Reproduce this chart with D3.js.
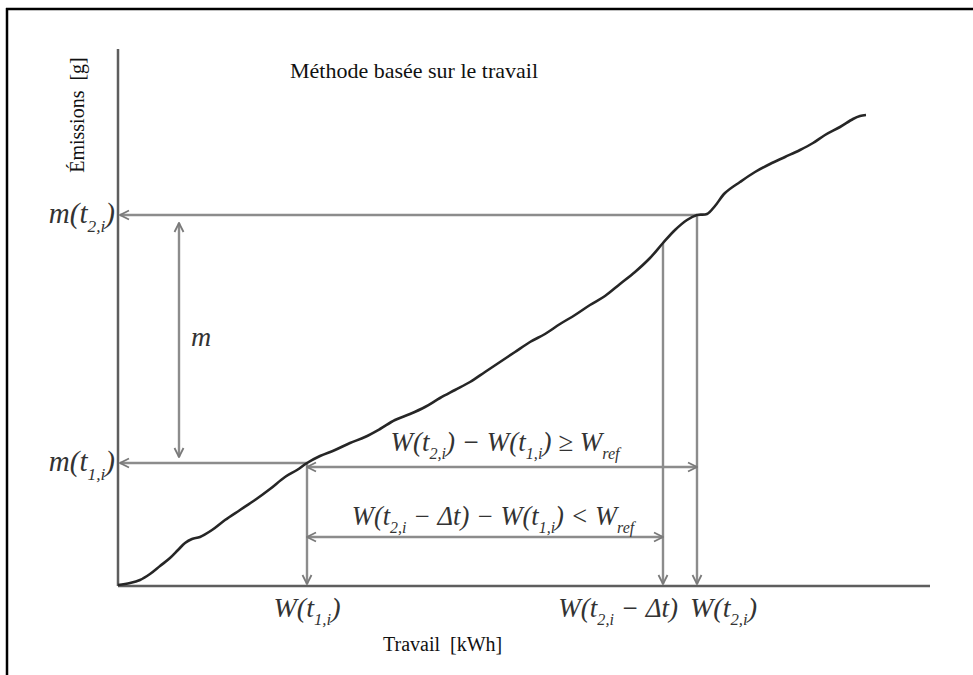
<!DOCTYPE html>
<html>
<head>
<meta charset="utf-8">
<script src="https://cdn.jsdelivr.net/npm/d3@7"></script>
<style>
  body { margin: 0; background: #fff; }
  text { font-family: "Liberation Serif", "Times New Roman", serif; }
  .math { font-style: italic; fill: #333; }
</style>
</head>
<body>
<div id="chart"></div>
<script>
var svgWidth = 973;
var svgHeight = 675;

// cumulative curve: work [x] vs emissions [y]
var work = [0, 1.2, 2.2, 3.2, 4.2, 5.2, 6.0, 6.7, 7.4, 8.2, 9.4, 10.7, 12.2, 13.7, 15.2, 16.7, 17.9, 18.9,
  20.2, 21.7, 23.2, 24.7, 26.2, 27.7, 29.2, 30.7, 32.2, 33.7, 35.2, 36.7, 38.2, 39.7, 41.2, 42.7, 44.2,
  45.7, 47.2, 48.7, 50.2, 51.7, 53.2, 54.5, 55.7, 56.9, 57.9, 58.9, 59.7, 60.7, 62.2, 63.7, 65.2, 66.7,
  68.2, 69.5, 70.7, 72.2, 73.5, 74.2, 74.8];
var emissions = [0.1, 0.3, 0.6, 1.2, 2.0, 2.8, 3.6, 4.3, 4.7, 4.9, 5.6, 6.6, 7.6, 8.6, 9.7, 10.9, 11.6, 12.3,
  13.0, 13.6, 14.3, 14.9, 15.7, 16.6, 17.2, 17.9, 18.8, 19.6, 20.4, 21.4, 22.4, 23.4, 24.4, 25.2, 26.2,
  27.1, 28.1, 29.0, 30.2, 31.4, 32.8, 34.3, 35.6, 36.6, 37.1, 37.2, 38.0, 39.3, 40.4, 41.4, 42.2, 42.9,
  43.6, 44.3, 45.1, 45.9, 46.7, 47.0, 47.1];

// window markers
var wT1 = 18.9, mT1 = 12.3;      // t1,i
var wT2 = 57.9, mT2 = 37.1;      // t2,i
var wT2dt = 54.5;                // t2,i - dt
var xMax = 81.2, yMax = 53.7;

var titleText = "Méthode basée sur le travail";
var xTitle = "Travail\u00a0 [kWh]";
var yTitle = "Émissions\u00a0 [g]";

// math labels as [text, isSubscript] pieces
var labelMT2 = [["m(", 0], ["t", 0], ["2,i", 1], [")", 0]];
var labelMT1 = [["m(", 0], ["t", 0], ["1,i", 1], [")", 0]];
var labelM = [["m", 0]];
var labelWT1 = [["W(", 0], ["t", 0], ["1,i", 1], [")", 0]];
var labelWT2dt = [["W(", 0], ["t", 0], ["2,i", 1], [" \u2212 \u0394t)", 0]];
var labelWT2 = [["W(", 0], ["t", 0], ["2,i", 1], [")", 0]];
var formula1 = [["W(", 0], ["t", 0], ["2,i", 1], [") \u2212 W(", 0], ["t", 0], ["1,i", 1], [") \u2265 W", 0], ["ref", 1]];
var formula2 = [["W(", 0], ["t", 0], ["2,i", 1], [" \u2212 \u0394t) \u2212 W(", 0], ["t", 0], ["1,i", 1], [") < W", 0], ["ref", 1]];

var svg = d3.select("#chart")
  .append("svg")
  .attr("width", svgWidth)
  .attr("height", svgHeight);

var x = d3.scaleLinear().domain([0, xMax]).range([118, 930]);
var y = d3.scaleLinear().domain([0, yMax]).range([586, 49]);

// arrow head
var defs = svg.append("defs");
defs.append("marker")
  .attr("id", "arrow")
  .attr("viewBox", "0 0 12 12")
  .attr("refX", 11)
  .attr("refY", 6)
  .attr("markerWidth", 12)
  .attr("markerHeight", 12)
  .attr("markerUnits", "userSpaceOnUse")
  .attr("orient", "auto-start-reverse")
  .append("path")
  .attr("d", "M2,1.5 L11,6 L2,10.5")
  .attr("fill", "none")
  .attr("stroke", "#7a7a7a")
  .attr("stroke-width", 1.8);

// frame (top and left only)
svg.append("line").attr("x1", 6).attr("x2", svgWidth).attr("y1", 9).attr("y2", 9)
  .attr("stroke", "#000").attr("stroke-width", 2.5);
svg.append("line").attr("x1", 7).attr("x2", 7).attr("y1", 8).attr("y2", svgHeight)
  .attr("stroke", "#000").attr("stroke-width", 2.5);

// axes
svg.append("line")
  .attr("x1", x(0)).attr("x2", x(0)).attr("y1", y(0)).attr("y2", y(yMax))
  .attr("stroke", "#5e5e5e").attr("stroke-width", 2.5);
svg.append("line")
  .attr("x1", x(0)).attr("x2", x(xMax)).attr("y1", y(0)).attr("y2", y(0))
  .attr("stroke", "#5e5e5e").attr("stroke-width", 2.5);

function guide(x1, y1, x2, y2, startArrow, endArrow) {
  var l = svg.append("line")
    .attr("x1", x1).attr("y1", y1).attr("x2", x2).attr("y2", y2)
    .attr("stroke", "#8c8c8c")
    .attr("stroke-width", 2.4);
  if (startArrow) l.attr("marker-start", "url(#arrow)");
  if (endArrow) l.attr("marker-end", "url(#arrow)");
}

// horizontal guides to the emissions axis
guide(x(wT2), y(mT2), x(0) + 2, y(mT2), false, true);
guide(x(wT1), y(mT1), x(0) + 2, y(mT1), false, true);
// m double arrow
guide(x(6.1), y(mT2) + 8, x(6.1), y(mT1) - 6, true, true);
// vertical guides down to the work axis
guide(x(wT1), y(mT1), x(wT1), y(0) - 2, false, true);
guide(x(wT2dt), y(34.3), x(wT2dt), y(0) - 2, false, true);
guide(x(wT2), y(mT2), x(wT2), y(0) - 2, false, true);
// work difference arrows
guide(x(wT1), y(mT1) + 4, x(wT2), y(mT1) + 4, true, true);
guide(x(wT1), y(4.9), x(wT2dt), y(4.9), true, true);

// curve
var pts = work.map(function(w, i) { return [w, emissions[i]]; });
var line = d3.line().x(d => x(d[0])).y(d => y(d[1])).curve(d3.curveCatmullRom);
svg.append("path")
  .datum(pts)
  .attr("d", line)
  .attr("fill", "none")
  .attr("stroke", "#262626")
  .attr("stroke-width", 2.6)
  .attr("stroke-linejoin", "round");

// text helpers
function mathLabel(pieces, px, py, anchor, size) {
  var t = svg.append("text")
    .attr("class", "math")
    .attr("x", px).attr("y", py)
    .attr("text-anchor", anchor)
    .attr("font-size", size);
  var down = false;
  pieces.forEach(function(p) {
    var s = t.append("tspan").text(p[0]);
    if (p[1] && !down) { s.attr("dy", size * 0.3).attr("font-size", size * 0.6); down = true; }
    else if (p[1]) { s.attr("font-size", size * 0.6); }
    else if (down) { s.attr("dy", -size * 0.3); down = false; }
  });
  return t;
}

svg.append("text")
  .attr("x", 290).attr("y", 78)
  .attr("font-size", 22)
  .attr("fill", "#111")
  .text(titleText);

svg.append("text")
  .attr("x", 383).attr("y", 651)
  .attr("font-size", 20)
  .attr("fill", "#111")
  .text(xTitle);

svg.append("text")
  .attr("transform", "translate(84, 115) rotate(-90)")
  .attr("text-anchor", "middle")
  .attr("font-size", 20)
  .attr("fill", "#111")
  .text(yTitle);

mathLabel(labelMT2, x(0) - 3, y(mT2) + 8, "end", 29);
mathLabel(labelMT1, x(0) - 3, y(mT1) + 8, "end", 29);
mathLabel(labelM, 191, 346, "start", 28);
mathLabel(labelWT1, x(wT1), 617, "middle", 28);
mathLabel(labelWT2dt, x(wT2dt) + 15, 617, "end", 27);
mathLabel(labelWT2, x(wT2) - 7, 617, "start", 28);
mathLabel(formula1, 505, 451, "middle", 27);
mathLabel(formula2, 493, 525, "middle", 26.5);
</script>
</body>
</html>
